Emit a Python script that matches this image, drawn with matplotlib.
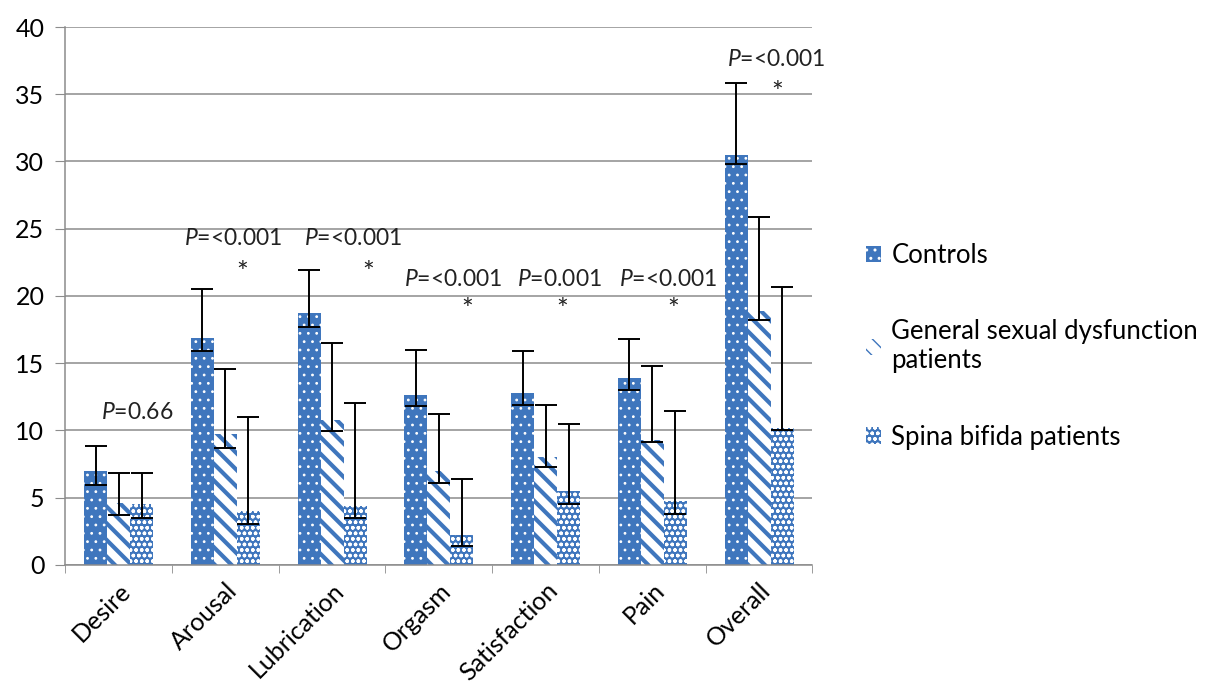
""" FSFI domain scores: controls vs. GSD vs. spina bifida """

import matplotlib
matplotlib.use('Agg')
import matplotlib.pyplot as plt
from matplotlib.patches import Patch
import numpy as np

CATEGORIES = ['Desire', 'Arousal', 'Lubrication', 'Orgasm',
              'Satisfaction', 'Pain', 'Overall']

CONTROLS = [6.95, 16.9, 18.7, 12.6, 12.75, 13.9, 30.5]
GENERAL = [4.6, 9.75, 10.75, 7.0, 8.0, 9.25, 18.9]
SPINA = [4.5, 4.0, 4.4, 2.25, 5.5, 4.75, 10.2]

# error bar ends (low, high) as drawn
CONTROLS_LO = [5.95, 15.9, 17.7, 11.8, 11.9, 13.0, 29.8]
CONTROLS_HI = [8.8, 20.5, 21.9, 16.0, 15.9, 16.8, 35.8]
GENERAL_LO = [3.7, 8.7, 9.95, 6.1, 7.25, 9.1, 18.2]
GENERAL_HI = [6.8, 14.55, 16.5, 11.25, 11.9, 14.8, 25.9]
SPINA_LO = [3.5, 3.05, 3.5, 1.4, 4.5, 3.75, 10.0]
SPINA_HI = [6.8, 11.0, 12.05, 6.4, 10.5, 11.45, 20.7]

P_LABELS = ['0.66', '<0.001', '<0.001', '<0.001', '0.001', '<0.001', '<0.001']
STARS = ['', '*', '*', '*', '*', '*', '*']

# annotation placement (offset from category centre, height)
P_DX = [0.17, 0.07, 0.2, 0.135, 0.13, 0.145, 0.16]
P_Y = [11.3, 24.25, 24.25, 21.25, 21.25, 21.25, 37.6]
STAR_DX = [0, 0.16, 0.34, 0.27, 0.16, 0.2, 0.17]
STAR_Y = [0, 21.6, 21.6, 18.9, 18.9, 18.9, 35.0]

BLUE = '#3f76bd'
FONT = 'Lato'

plt.rcParams['font.family'] = [FONT, 'DejaVu Sans']
plt.rcParams['mathtext.fontset'] = 'custom'
plt.rcParams['mathtext.it'] = f'{FONT}:italic'
plt.rcParams['mathtext.rm'] = FONT

fig = plt.figure(figsize=(12.09, 6.93), dpi=100)
ax = fig.add_axes([0.054, 0.185, 0.618, 0.776])

x = np.arange(len(CATEGORIES))
w = 0.215

# (values, low, high, offset, face, hatch colour, hatch, hatch width)
series = [
    (CONTROLS, CONTROLS_LO, CONTROLS_HI, -w, BLUE, 'white', '..', 0.8),
    (GENERAL, GENERAL_LO, GENERAL_HI, 0, 'white', BLUE, '\\\\', 3.0),
    (SPINA, SPINA_LO, SPINA_HI, w, BLUE, 'white', 'ooo', 1.0),
]

handles = []
for vals, lo, hi, off, face, hcol, hatch, hlw in series:
    with plt.rc_context({'hatch.linewidth': hlw}):
        bars = ax.bar(x + off, vals, w, color=face, edgecolor=hcol,
                      hatch=hatch, linewidth=0, zorder=2)
        handles.append(Patch(facecolor=face, edgecolor=hcol, hatch=hatch,
                             linewidth=0))
    for b in list(bars) + [handles[-1]]:
        if hasattr(b, 'set_hatch_linewidth'):
            b.set_hatch_linewidth(hlw)
    v = np.array(vals)
    yerr = [v - np.array(lo), np.array(hi) - v]
    ax.errorbar(x + off, v, yerr=yerr, fmt='none', ecolor='black',
                elinewidth=1.4, capsize=8, capthick=1.4, zorder=3)

for i in range(len(CATEGORIES)):
    ax.text(i + P_DX[i], P_Y[i], r'$\mathit{P}$=' + P_LABELS[i],
            ha='center', va='center', fontsize=16.5, color='#222222')
    if STARS[i]:
        ax.text(i + STAR_DX[i], STAR_Y[i], STARS[i], ha='center',
                va='center', fontsize=20, color='#222222')

ax.set_ylim(0, 40)
ax.set_xlim(-0.5, len(CATEGORIES) - 0.5)
ax.set_yticks(np.arange(0, 41, 5))
ax.yaxis.grid(True, color='#8c8c8c', linewidth=1.1, zorder=0)
ax.set_axisbelow(True)

ax.set_xticks(x)
ax.set_xticklabels(CATEGORIES, rotation=45, ha='right',
                   rotation_mode='anchor', fontsize=18)
ax.tick_params(axis='x', length=0, pad=10)
ax.set_xticks(np.arange(-0.5, len(CATEGORIES), 1), minor=True)
ax.tick_params(axis='x', which='minor', length=6, color='#8c8c8c')
ax.tick_params(axis='y', labelsize=18, length=7, color='#8c8c8c', pad=8)

for s in ['top', 'right']:
    ax.spines[s].set_visible(False)
for s in ['left', 'bottom']:
    ax.spines[s].set_color('#8c8c8c')
    ax.spines[s].set_linewidth(1.1)

labels = ['Controls', 'General sexual dysfunction\npatients',
          'Spina bifida patients']
fig.legend(handles, labels, loc='upper left', bbox_to_anchor=(0.697, 0.683),
           frameon=False, fontsize=18.5, handlelength=0.6, handleheight=0.6,
           handletextpad=0.4, labelspacing=2.0)

fig.savefig('out.png', dpi=100)
